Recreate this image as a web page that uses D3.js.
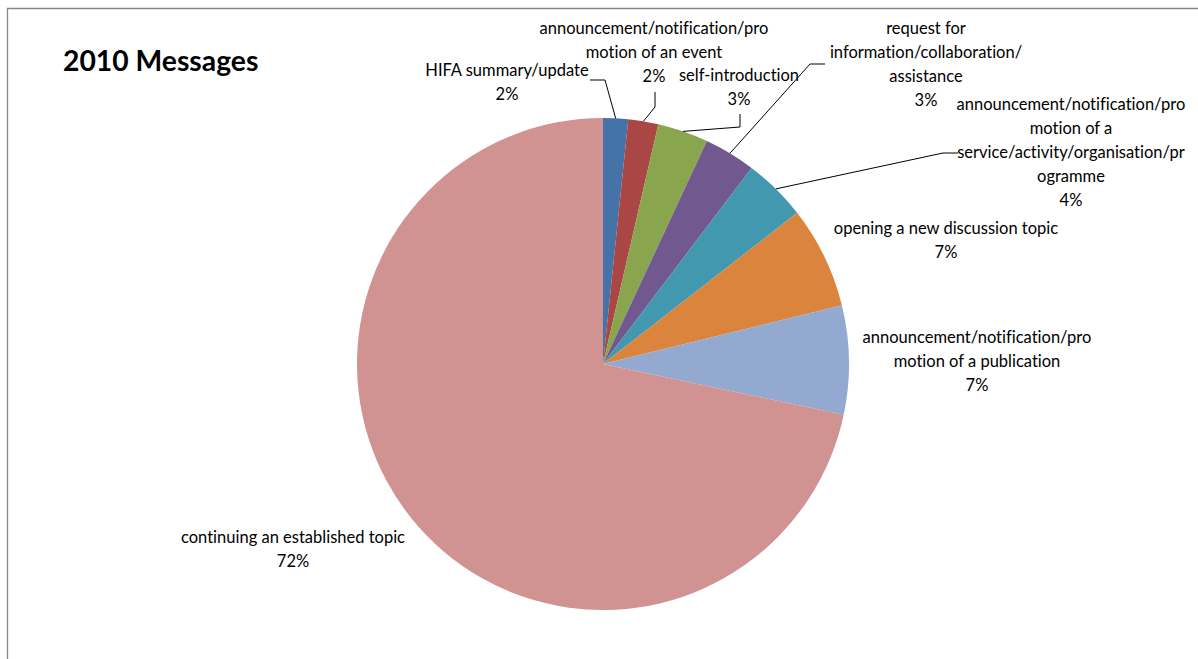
<!DOCTYPE html>
<html>
<head>
<meta charset="utf-8">
<script src="https://cdn.jsdelivr.net/npm/d3@7"></script>
<style>
  html, body { margin: 0; padding: 0; background: #fff; }
  svg { display: block; }
  text { font-variant-ligatures: none; font-feature-settings: "liga" 0, "clig" 0; }
</style>
</head>
<body>
<svg id="chart" width="1198" height="659"></svg>
<script>
// ---- data ----
const title = "2010 Messages";
const categories = [
  "HIFA summary/update",
  "announcement/notification/promotion of an event",
  "self-introduction",
  "request for information/collaboration/assistance",
  "announcement/notification/promotion of a service/activity/organisation/programme",
  "opening a new discussion topic",
  "announcement/notification/promotion of a publication",
  "continuing an established topic"
];
const values = [1.64, 1.97, 3.33, 3.38, 4.15, 6.69, 7.15, 71.69];
// label line breaks as wrapped in the picture
const labelLines = [
  ["HIFA summary/update"],
  ["announcement/notification/pro", "motion of an event"],
  ["self-introduction"],
  ["request for", "information/collaboration/", "assistance"],
  ["announcement/notification/pro", "motion of a", "service/activity/organisation/pr", "ogramme"],
  ["opening a new discussion topic"],
  ["announcement/notification/pro", "motion of a publication"],
  ["continuing an established topic"]
];
const colors = ["#4572A7", "#AA4643", "#89A54E", "#71588F", "#4198AF", "#DB843D", "#93A9CF", "#D19392"];

// ---- layout (label centres of first line, leader elbows) ----
const labelPos = [[507, 70], [654, 28], [739, 75], [926, 28], [1071, 104], [946, 228], [977, 337], [293, 537]];
const leaders = [
  [[605, 80], [590, 80]],
  [[655, 107], [655, 92]],
  [[740, 127], [740, 114]],
  [[810, 64], [825, 64]],
  [[943, 153], [958, 153]],
  null, null, null
];

const W = 1198, H = 659;
const cx = 603, cy = 364, R = 246;
const lineH = 24;
const font = "Lato, 'Open Sans', sans-serif";

const svg = d3.select("#chart");

// frame
svg.append("path")
  .attr("d", `M7.5,${H} L7.5,8.5 L${W},8.5`)
  .attr("fill", "none").attr("stroke", "#868686").attr("stroke-width", 1.3);

// title
svg.append("text")
  .attr("x", 63).attr("y", 60)
  .attr("dominant-baseline", "central")
  .attr("font-family", font).attr("font-weight", "bold").attr("font-size", 28.3)
  .attr("fill", "#000")
  .text(title);

const data = categories.map((c, i) => ({ name: c, value: values[i], i }));
const pie = d3.pie().sort(null).value(d => d.value);
const arcs = pie(data);
const arc = d3.arc().innerRadius(0).outerRadius(R);
const edgeArc = d3.arc().innerRadius(R).outerRadius(R);

const g = svg.append("g").attr("transform", `translate(${cx},${cy})`);
g.selectAll("path.slice").data(arcs).enter().append("path")
  .attr("class", "slice")
  .attr("d", arc)
  .attr("fill", d => colors[d.data.i]);

const total = d3.sum(values);

// leaders
arcs.forEach((a, i) => {
  const L = leaders[i];
  if (!L) return;
  const p = edgeArc.centroid(a);
  const pts = [[p[0] + cx, p[1] + cy], ...L];
  svg.append("path")
    .attr("d", d3.line()(pts))
    .attr("fill", "none").attr("stroke", "#000").attr("stroke-width", 1);
});

// labels
arcs.forEach((a, i) => {
  const lines = labelLines[i].concat([Math.round(values[i] / total * 100) + "%"]);
  const t = svg.append("text")
    .attr("font-family", font).attr("font-size", 16.5).attr("fill", "#000")
    .attr("text-anchor", "middle");
  lines.forEach((ln, k) => {
    t.append("tspan")
      .attr("x", labelPos[i][0]).attr("y", labelPos[i][1] + k * lineH)
      .attr("dominant-baseline", "central")
      .text(ln);
  });
});
</script>
</body>
</html>
